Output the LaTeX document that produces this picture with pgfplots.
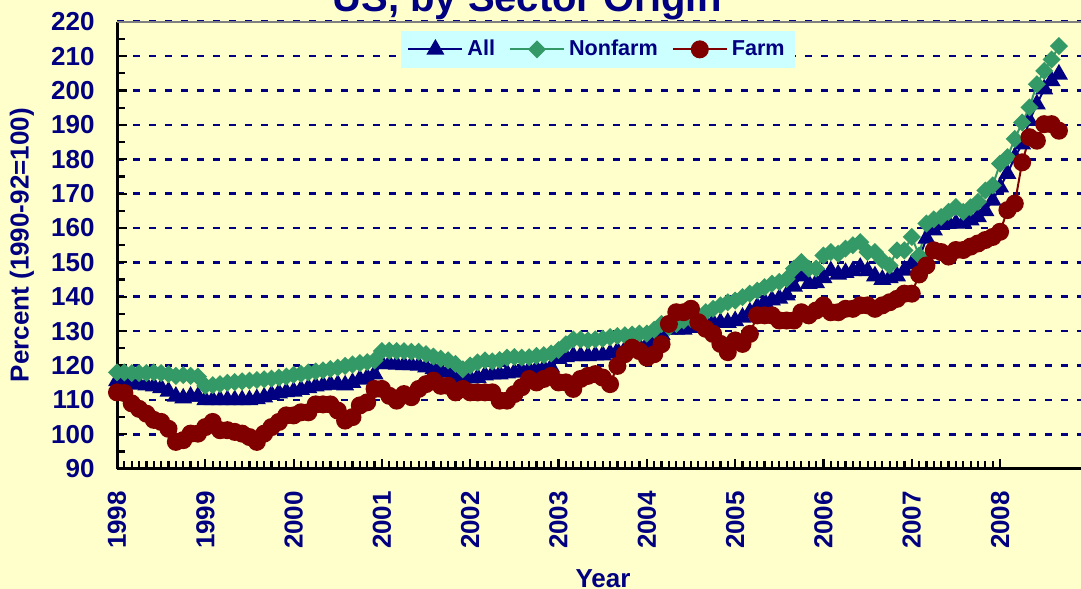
\documentclass[border=0pt]{standalone}
\usepackage{pgfplots}
\pgfplotsset{compat=1.18}
\usepackage{pgfplotstable}
\usepackage{fontspec}
\setmainfont{Liberation Sans}
\definecolor{bgc}{HTML}{FFFFCC}
\definecolor{navyc}{HTML}{000080}
\definecolor{greenc}{HTML}{339966}
\definecolor{redc}{HTML}{800000}
\definecolor{legbg}{HTML}{CCFFFF}
\pgfplotstableread{
i all non farm
0 115.5 118 112.2
1 115.3 118 112
2 115 117.8 109
3 114.5 117.8 107.4
4 114.3 117.8 106
5 114 118 104.2
6 113.5 117.8 103.6
7 112.5 117.5 101.6
8 111 117 97.8
9 110.5 117.2 98.3
10 111 117 100.2
11 111 116.8 100.2
12 110 114.1 102.1
13 110 114.3 103.6
14 110 114.6 101.2
15 110 115 101.2
16 110 115.2 100.7
17 110 115.4 100.2
18 110 115.6 99.2
19 110.3 115.8 97.8
20 110.8 116 100.2
21 111.5 116.2 102.1
22 112 116.5 103.6
23 112.3 116.8 105.5
24 112.5 117.3 105.5
25 113 117.6 106.4
26 113.5 118 106.4
27 114 118.3 108.7
28 114.3 118.6 108.7
29 114.5 119 108.7
30 114.5 119.4 106.9
31 114.3 119.9 104
32 115 120.3 105
33 116 120.7 108.4
34 116.5 121 109.3
35 117.5 121.5 113.2
36 120.5 124.2 113.2
37 120.5 124.3 111.2
38 120.3 124.2 109.8
39 120.2 124.2 111.7
40 120.2 124 110.8
41 120 124 113.2
42 119.5 123.3 114.6
43 119 122.6 115.6
44 118.5 122 114.1
45 118 121.5 114.1
46 117 120.5 112.2
47 116.3 118.9 113.2
48 116.3 120 112.2
49 116.5 120.9 112.2
50 117.2 121.5 112.2
51 117.5 121.2 112.2
52 117.5 121.6 109.8
53 117.8 122.3 109.8
54 118 122.5 111.7
55 118.5 122.3 113.7
56 118.8 122.4 116.1
57 119 122.8 115.1
58 119.2 123 116.1
59 119.5 123.5 117
60 122 124.5 115.1
61 122.5 126.2 115.1
62 122.8 127.6 113.2
63 122.8 127.6 116.1
64 122.8 127.3 117
65 123 127.6 117.5
66 123 127.8 116.5
67 123.5 128.3 114.6
68 124.2 128.6 119.9
69 124.5 128.8 123.3
70 125.2 129 125.2
71 125.5 129.3 124.2
72 126 129.3 122.3
73 127 130.4 123.3
74 129 132.1 126.2
75 130.5 131.2 132.1
76 130.5 132.1 135.5
77 130.5 133.1 135.5
78 131 133.6 136.5
79 131.5 134.1 132.6
80 132.5 135.5 130.7
81 132.5 136.5 129.2
82 132.5 137.5 126.3
83 132.5 138.4 123.9
84 133 138.9 127.3
85 134 139.9 126.3
86 135.5 140.9 129.2
87 137 141.8 134.6
88 138.5 142.8 134.6
89 139 143.8 134.6
90 139.5 144.3 133.1
91 140.5 145.2 133.1
92 143 148.2 133.1
93 146 150.1 135.5
94 143.8 148.2 134.6
95 144 148.2 136
96 145.5 152 137.5
97 147.5 153 135.5
98 146.5 152.5 135.5
99 147 154 136.5
100 147.5 155 136.5
101 148.5 155.9 137.5
102 147.5 153 137.5
103 146 153 136.5
104 145 150.6 137.5
105 145.5 149.1 138.4
106 146 153.5 139.4
107 147.7 153.5 140.9
108 149.5 157.4 140.9
109 151 152 146.5
110 157 161.3 149.1
111 159.4 162.5 153.5
112 161 163.2 153
113 161.3 164.7 151.7
114 161.3 166.1 153.6
115 161.5 164.7 153.6
116 162.3 166 154.6
117 163.2 167.6 155.5
118 165 170.9 156.5
119 168 172.4 157.4
120 171.9 178.7 158.9
121 175.8 180.6 165.2
122 180.6 185.9 167.1
123 184.4 190.7 179.1
124 191.2 195.1 186.4
125 196 201.8 185.4
126 200.4 205.7 190.2
127 202.8 209 190.2
128 204.7 212.9 188.3
}\data
\begin{document}
\begin{tikzpicture}
\fill[bgc] (-58.5pt,-60pt) rectangle (482pt,234.35pt);
\begin{axis}[name=ax, at={(0,0)}, anchor=south west,
  scale only axis, width=482pt, height=223.5pt,
  xmin=0, xmax=131, ymin=90, ymax=220,
  xtick={0,12,24,36,48,60,72,84,96,108,120},
  xticklabels={1998,1999,2000,2001,2002,2003,2004,2005,2006,2007,2008},
  minor x tick num=11,
  ytick={90,100,...,220}, minor y tick num=1,
  axis x line*=bottom, axis y line*=left,
  axis line style={-, black, line width=1.5pt},
  tick align=inside,
  major tick length=5pt, minor tick length=4pt,
  every tick/.style={black, line width=1.1pt},
  ymajorgrids,
  major grid style={navyc, line width=1.3pt, dash pattern=on 3.5pt off 4.5pt},
  /pgf/number format/assume math mode=true,
  ticklabel style={font=\fontsize{13}{15}\selectfont\bfseries, text=navyc},
  yticklabel style={anchor=east, inner sep=0pt, xshift=-11pt},
  xticklabel style={yshift=-11pt, rotate=90, anchor=east, inner sep=0pt},
  legend style={at={(0.499,0.98)}, anchor=north, draw=none, fill=legbg,
    font=\fontsize{10.8}{12}\selectfont\bfseries, text=navyc,
    inner xsep=3pt, inner ysep=2.5pt,
    /tikz/every even column/.append style={column sep=5pt}},
  legend columns=3,
  legend image code/.code={\draw[mark repeat=2,mark phase=2,#1] plot coordinates {(0pt,0pt) (13.5pt,0pt) (27pt,0pt)};},
]
\addplot[navyc, line width=1pt, mark=triangle*, mark size=4.2pt] table[x=i,y=all]{\data};
\addlegendentry{All}
\addplot[greenc, line width=1pt, mark=square*, mark size=2.7pt, mark options={rotate=45}] table[x=i,y=non]{\data};
\addlegendentry{Nonfarm}
\addplot[redc, line width=1pt, mark=*, mark size=4pt] table[x=i,y=farm]{\data};
\addlegendentry{Farm}
\draw[gray, line width=1pt] (rel axis cs:0,1) -- (rel axis cs:1,1);
\end{axis}
\node[font=\fontsize{20}{24}\selectfont\bfseries, text=navyc, anchor=base] at ([xshift=-36pt,yshift=5.3pt]ax.north) {US, by Sector Origin};
\node[rotate=90, font=\fontsize{13}{15}\selectfont\bfseries, text=navyc] at ([xshift=-47.5pt]ax.west) {Percent (1990-92=100)};
\node[font=\fontsize{13}{15}\selectfont\bfseries, text=navyc, anchor=base] at ([xshift=2pt,yshift=-59.5pt]ax.south) {Year};
\pgfresetboundingbox
\path[use as bounding box] (-58.5pt,-60pt) rectangle (482pt,234.35pt);
\end{tikzpicture}
\end{document}
